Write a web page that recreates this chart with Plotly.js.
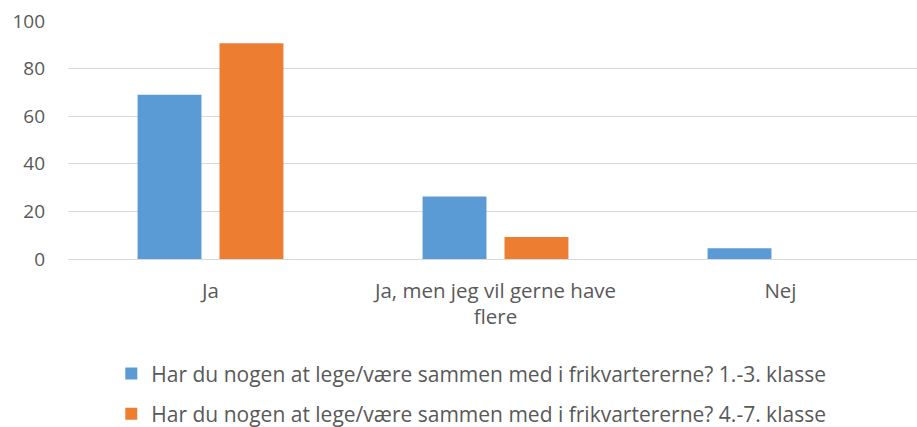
<!DOCTYPE html>
<html>
<head>
<meta charset="utf-8">
<script src="https://cdn.plot.ly/plotly-3.0.1.min.js"></script>
<style>html,body{margin:0;padding:0;background:#fff;}#chart{width:917px;height:427px;}</style>
</head>
<body>
<div id="chart"></div>
<script>
const categories = ["Ja", "Ja, men jeg vil gerne have<br>flere", "Nej"];
const seriesNames = [
  "Har du nogen at lege/være sammen med i frikvartererne? 1.-3. klasse",
  "Har du nogen at lege/være sammen med i frikvartererne? 4.-7. klasse"
];
const values1to3 = [69, 26.3, 4.5];
const values4to7 = [90.6, 9.2, 0];
const yTicks = [0, 20, 40, 60, 80, 100];

const textColor = '#595959';
const fontFam = '"Open Sans", Lato, sans-serif';

const traces = [
  {type: 'bar', x: categories, y: values1to3, name: seriesNames[0],
   marker: {color: '#5B9BD5'}, legendgroup: 'a', hoverinfo: 'y'},
  {type: 'bar', x: categories, y: values4to7, name: seriesNames[1],
   marker: {color: '#ED7D31'}, legendgroup: 'b', hoverinfo: 'y'}
];

const layout = {
  width: 917, height: 427,
  margin: {l: 68, r: 0, t: 21, b: 168, autoexpand: false},
  paper_bgcolor: '#fff', plot_bgcolor: '#fff',
  font: {family: fontFam, size: 19, color: textColor},
  barmode: 'group',
  bargap: 0.425,
  bargroupgap: 0.22,
  showlegend: true,
  legend: {
    orientation: 'v', x: 0.051, xanchor: 'left', y: -0.396, yanchor: 'top',
    font: {family: fontFam, size: 21, color: textColor},
    tracegroupgap: 10, traceorder: 'grouped'
  },
  xaxis: {
    type: 'category', range: [-0.5, 2.479],
    showgrid: false, zeroline: false, showline: false,
    ticks: 'outside', ticklen: 13, tickcolor: 'rgba(0,0,0,0)',
    tickfont: {family: fontFam, size: 20.5, color: textColor}
  },
  yaxis: {
    range: [0, 100], tickvals: yTicks, ticktext: yTicks.map(String),
    showgrid: true, gridcolor: '#d9d9d9', gridwidth: 1,
    zeroline: true, zerolinecolor: '#d9d9d9', zerolinewidth: 1,
    showline: false, ticks: '', ticklabelstandoff: 22,
    tickfont: {family: fontFam, size: 19, color: textColor}
  }
};

Plotly.newPlot('chart', traces, layout, {displayModeBar: false, staticPlot: true});
</script>
</body>
</html>
